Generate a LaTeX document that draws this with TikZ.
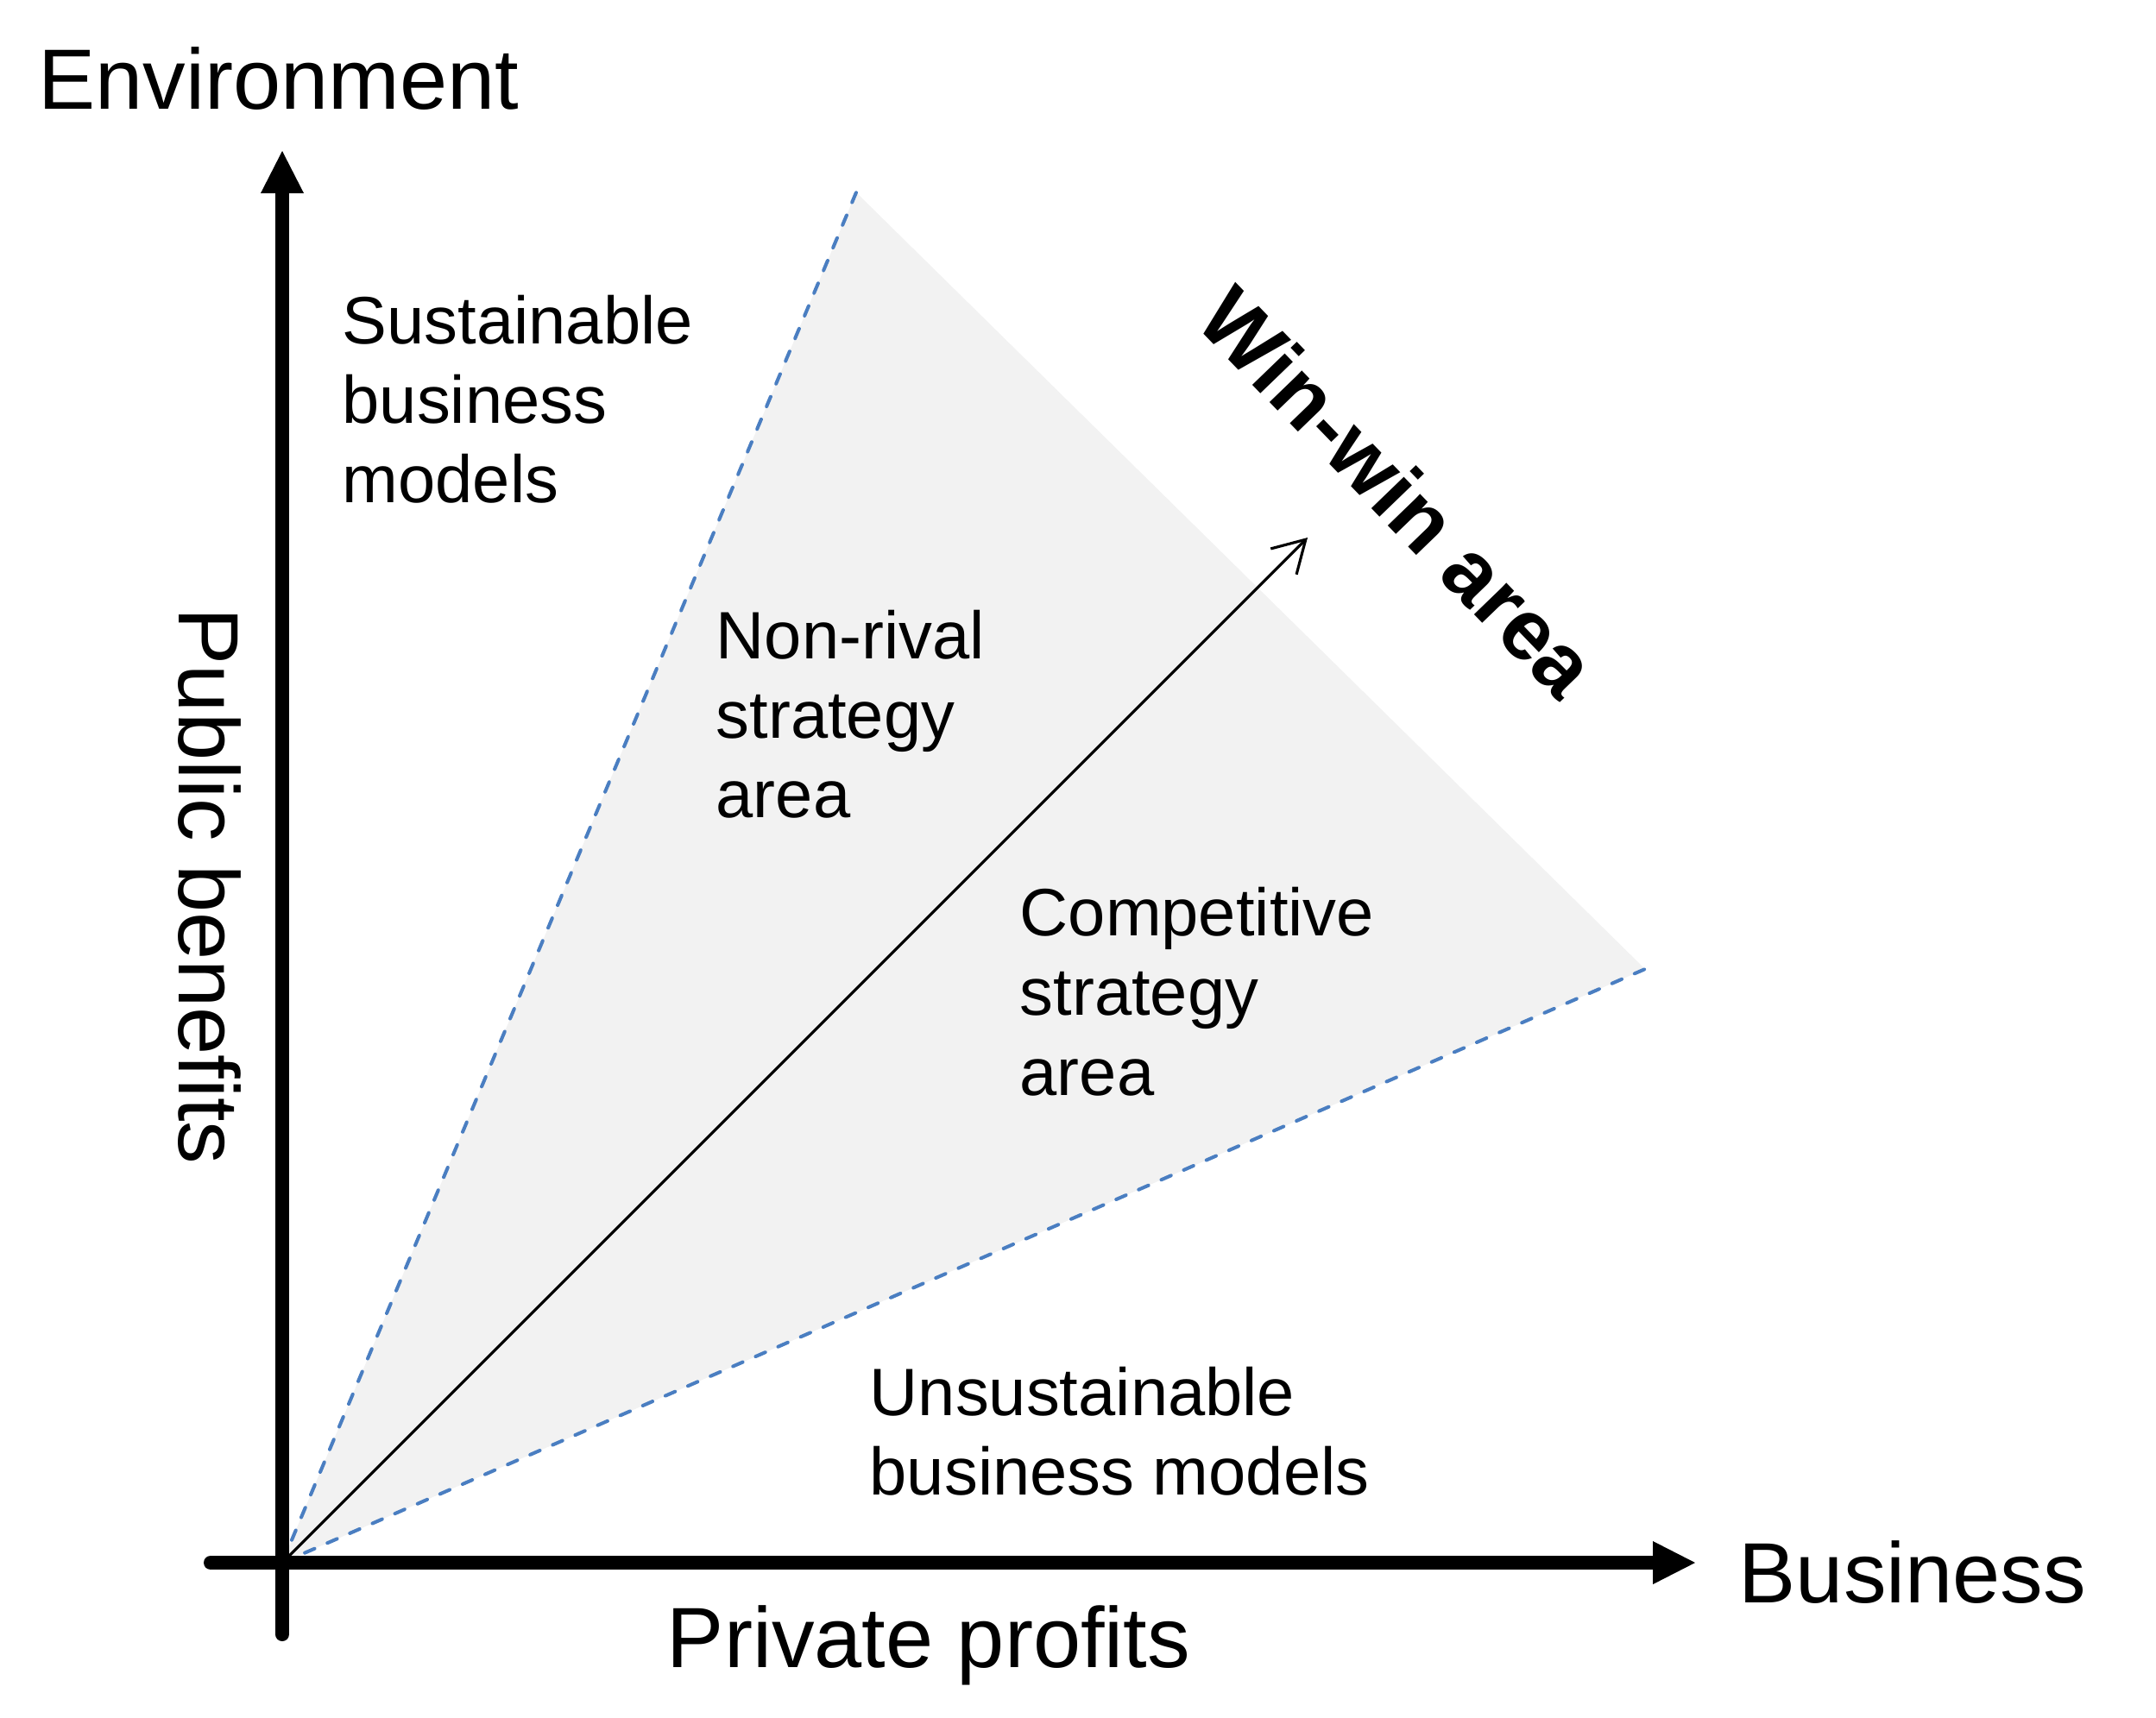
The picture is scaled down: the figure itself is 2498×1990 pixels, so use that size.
\documentclass[tikz,border=0pt]{standalone}
\usepackage{fontspec}
\setmainfont{Liberation Sans}
\usetikzlibrary{arrows.meta}
\definecolor{regiongray}{RGB}{242,242,242}
\definecolor{dashblue}{RGB}{74,126,193}
\tikzset{
  axis/.style={line width=4.55pt, line cap=round, -{Triangle[length=13.9pt,width=14.2pt,line width=0pt]}},
  edgeline/.style={dashblue, line width=1.15pt, line cap=round, dash pattern=on 3.5pt off 4.6pt},
  winarrow/.style={line width=0.9pt, -{Straight Barb[length=10.3pt,width=12pt]}},
  biglabel/.style={inner sep=0pt, font=\fontsize{28.2}{32}\selectfont},
  smalllabel/.style={inner sep=0pt, anchor=base west, font=\fontsize{22.1}{26.3}\selectfont},
}
\newcommand{\stack}[1]{\begin{tabular}[t]{@{}l@{}}#1\end{tabular}}
\begin{document}
\begin{tikzpicture}[x=0.01cm, y=-0.01cm]
\useasboundingbox (0,0) rectangle (2498,1990);
% key points
\coordinate (O) at (327,1811);
\coordinate (A) at (992,223);
\coordinate (C) at (1906,1123);
\coordinate (T) at (1515,623);
\coordinate (Xs) at (244,1811);
\coordinate (Xe) at (1964,1811);
\coordinate (Ys) at (327,1894);
\coordinate (Ye) at (327,175);
% shaded win-win region
\fill[regiongray] (O) -- (A) -- (C) -- cycle;
\draw[edgeline] (O) -- (A);
\draw[edgeline] (O) -- (C);
% win-win arrow
\draw[winarrow] (O) -- (T);
% axes
\draw[axis] (Xs) -- (Xe);
\draw[axis] (Ys) -- (Ye);
% labels
\node[biglabel, anchor=base west] (env) at (44,126) {Environment};
\node[biglabel, anchor=base west] (bus) at (2014,1857) {Business};
\node[biglabel, anchor=base] (priv) at (1076,1932) {Private profits};
\node[biglabel, anchor=base west, rotate=-90] (pub) at (207,704) {Public benefits};
\node[biglabel, rotate=-46, font=\fontsize{28.2}{32}\selectfont\bfseries] (win) at (1620,570) {Win-win area};
\node[smalllabel] (sust) at (396,398) {\stack{Sustainable\\business\\models}};
\node[smalllabel] (nonr) at (829,763) {\stack{Non-rival\\strategy\\area}};
\node[smalllabel] (comp) at (1181,1084) {\stack{Competitive\\strategy\\area}};
\node[smalllabel] (unsu) at (1007,1640) {\stack{Unsustainable\\business models}};
\end{tikzpicture}
\end{document}
